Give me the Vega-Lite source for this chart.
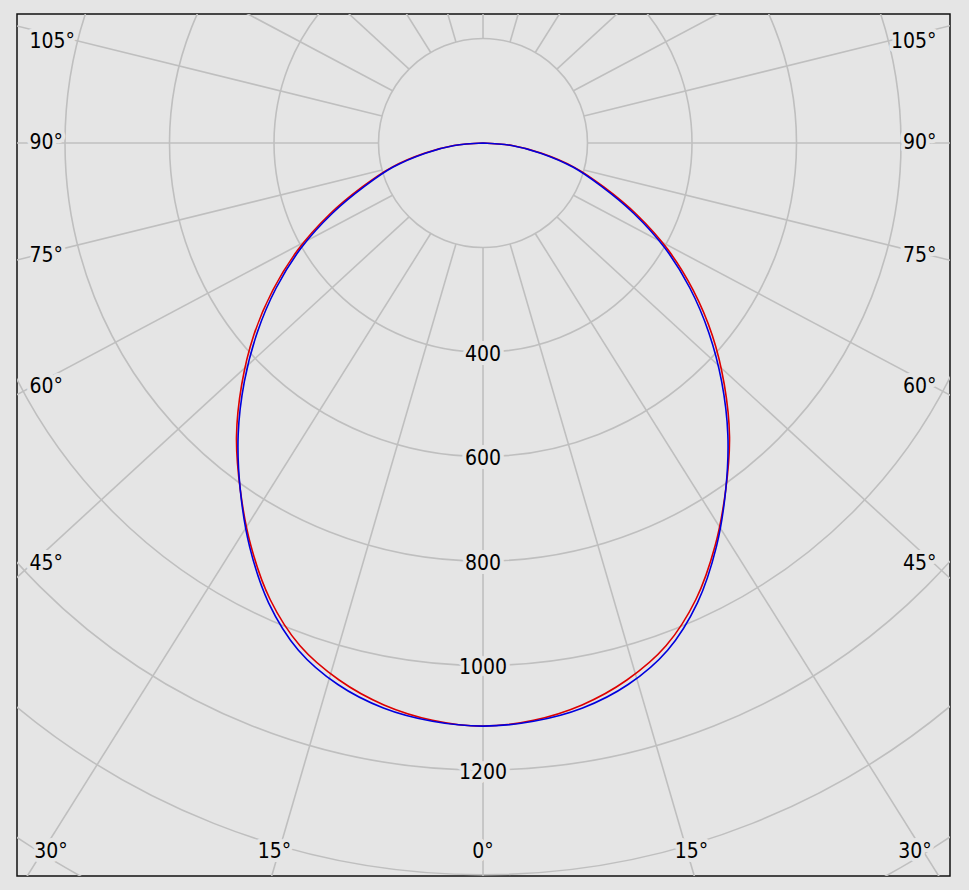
{
  "$schema": "https://vega.github.io/schema/vega-lite/v6.json",
  "width": 933,
  "height": 862,
  "autosize": "none",
  "padding": {"left": 17, "top": 14, "right": 19, "bottom": 14},
  "background": "#e5e5e5",
  "config": {"view": {"stroke": "#111111", "strokeWidth": 1.5, "fill": "#e5e5e5"}},
  "datasets": {
    "circles": [{"r": 200}, {"r": 400}, {"r": 600}, {"r": 800}, {"r": 1000}, {"r": 1200}, {"r": 1400}, {"r": 1600}],
    "spokes": [{"a": -165}, {"a": -150}, {"a": -135}, {"a": -120}, {"a": -105}, {"a": -90}, {"a": -75}, {"a": -60}, {"a": -45}, {"a": -30}, {"a": -15}, {"a": 0}, {"a": 15}, {"a": 30}, {"a": 45}, {"a": 60}, {"a": 75}, {"a": 90}, {"a": 105}, {"a": 120}, {"a": 135}, {"a": 150}, {"a": 165}, {"a": 180}],
    "curves": [
      {"plane": "C0-C180", "a": -90, "I": 0}, {"plane": "C0-C180", "a": -85, "I": 56}, {"plane": "C0-C180", "a": -80, "I": 114}, {"plane": "C0-C180", "a": -75, "I": 182}, {"plane": "C0-C180", "a": -70, "I": 246}, {"plane": "C0-C180", "a": -65, "I": 325}, {"plane": "C0-C180", "a": -60, "I": 409}, {"plane": "C0-C180", "a": -55, "I": 491}, {"plane": "C0-C180", "a": -50, "I": 573}, {"plane": "C0-C180", "a": -45, "I": 653}, {"plane": "C0-C180", "a": -40, "I": 734}, {"plane": "C0-C180", "a": -35, "I": 810}, {"plane": "C0-C180", "a": -30, "I": 889}, {"plane": "C0-C180", "a": -25, "I": 964}, {"plane": "C0-C180", "a": -20, "I": 1024}, {"plane": "C0-C180", "a": -15, "I": 1064}, {"plane": "C0-C180", "a": -10, "I": 1092}, {"plane": "C0-C180", "a": -5, "I": 1109}, {"plane": "C0-C180", "a": 0, "I": 1116},
      {"plane": "C0-C180", "a": 5, "I": 1109}, {"plane": "C0-C180", "a": 10, "I": 1092}, {"plane": "C0-C180", "a": 15, "I": 1064}, {"plane": "C0-C180", "a": 20, "I": 1024}, {"plane": "C0-C180", "a": 25, "I": 964}, {"plane": "C0-C180", "a": 30, "I": 889}, {"plane": "C0-C180", "a": 35, "I": 810}, {"plane": "C0-C180", "a": 40, "I": 734}, {"plane": "C0-C180", "a": 45, "I": 653}, {"plane": "C0-C180", "a": 50, "I": 573}, {"plane": "C0-C180", "a": 55, "I": 491}, {"plane": "C0-C180", "a": 60, "I": 409}, {"plane": "C0-C180", "a": 65, "I": 325}, {"plane": "C0-C180", "a": 70, "I": 246}, {"plane": "C0-C180", "a": 75, "I": 182}, {"plane": "C0-C180", "a": 80, "I": 114}, {"plane": "C0-C180", "a": 85, "I": 56}, {"plane": "C0-C180", "a": 90, "I": 0},
      {"plane": "C90-C270", "a": -90, "I": 0}, {"plane": "C90-C270", "a": -85, "I": 55}, {"plane": "C90-C270", "a": -80, "I": 112}, {"plane": "C90-C270", "a": -75, "I": 178}, {"plane": "C90-C270", "a": -70, "I": 240}, {"plane": "C90-C270", "a": -65, "I": 318}, {"plane": "C90-C270", "a": -60, "I": 402}, {"plane": "C90-C270", "a": -55, "I": 483}, {"plane": "C90-C270", "a": -50, "I": 564}, {"plane": "C90-C270", "a": -45, "I": 646}, {"plane": "C90-C270", "a": -40, "I": 729}, {"plane": "C90-C270", "a": -35, "I": 810}, {"plane": "C90-C270", "a": -30, "I": 893}, {"plane": "C90-C270", "a": -25, "I": 971}, {"plane": "C90-C270", "a": -20, "I": 1033}, {"plane": "C90-C270", "a": -15, "I": 1073}, {"plane": "C90-C270", "a": -10, "I": 1098}, {"plane": "C90-C270", "a": -5, "I": 1111}, {"plane": "C90-C270", "a": 0, "I": 1116},
      {"plane": "C90-C270", "a": 5, "I": 1111}, {"plane": "C90-C270", "a": 10, "I": 1098}, {"plane": "C90-C270", "a": 15, "I": 1073}, {"plane": "C90-C270", "a": 20, "I": 1033}, {"plane": "C90-C270", "a": 25, "I": 971}, {"plane": "C90-C270", "a": 30, "I": 893}, {"plane": "C90-C270", "a": 35, "I": 810}, {"plane": "C90-C270", "a": 40, "I": 729}, {"plane": "C90-C270", "a": 45, "I": 646}, {"plane": "C90-C270", "a": 50, "I": 564}, {"plane": "C90-C270", "a": 55, "I": 483}, {"plane": "C90-C270", "a": 60, "I": 402}, {"plane": "C90-C270", "a": 65, "I": 318}, {"plane": "C90-C270", "a": 70, "I": 240}, {"plane": "C90-C270", "a": 75, "I": 178}, {"plane": "C90-C270", "a": 80, "I": 112}, {"plane": "C90-C270", "a": 85, "I": 55}, {"plane": "C90-C270", "a": 90, "I": 0}
    ],
    "angleLabels": [
      {"a": -105, "t": "105°"}, {"a": -90, "t": "90°"}, {"a": -75, "t": "75°"}, {"a": -60, "t": "60°"}, {"a": -45, "t": "45°"}, {"a": -30, "t": "30°"}, {"a": -15, "t": "15°"}, {"a": 0, "t": "0°"},
      {"a": 15, "t": "15°"}, {"a": 30, "t": "30°"}, {"a": 45, "t": "45°"}, {"a": 60, "t": "60°"}, {"a": 75, "t": "75°"}, {"a": 90, "t": "90°"}, {"a": 105, "t": "105°"}
    ],
    "valueLabels": [{"v": 400, "t": "400"}, {"v": 600, "t": "600"}, {"v": 800, "t": "800"}, {"v": 1000, "t": "1000"}, {"v": 1200, "t": "1200"}]
  },
  "encoding": {
    "x": {"field": "x", "type": "quantitative", "scale": {"domain": [-891.9, 893.8], "nice": false, "zero": false}, "axis": null},
    "y": {"field": "y", "type": "quantitative", "scale": {"domain": [-1402.9, 246.9], "nice": false, "zero": false}, "axis": null}
  },
  "layer": [
    {
      "data": {"name": "circles"},
      "transform": [{"calculate": "0", "as": "x"}, {"calculate": "0", "as": "y"}],
      "mark": {"type": "point", "shape": "circle", "filled": false, "stroke": "#bfbfbf", "strokeWidth": 1.6, "opacity": 1, "clip": true},
      "encoding": {"size": {"field": "r", "type": "quantitative", "scale": {"type": "pow", "exponent": 2, "domain": [0, 2000], "range": [0, 4368100]}, "legend": null}}
    },
    {
      "data": {"name": "spokes"},
      "transform": [
        {"calculate": "datum.a*PI/180", "as": "rad"},
        {"calculate": "200*sin(datum.rad)", "as": "x"},
        {"calculate": "-200*cos(datum.rad)", "as": "y"},
        {"calculate": "3000*1.082*sin(datum.rad)", "as": "x2"},
        {"calculate": "-3000*cos(datum.rad)", "as": "y2"}
      ],
      "mark": {"type": "rule", "stroke": "#bfbfbf", "strokeWidth": 1.6, "clip": true},
      "encoding": {"x2": {"field": "x2"}, "y2": {"field": "y2"}}
    },
    {
      "data": {"name": "curves"},
      "transform": [
        {"filter": "datum.plane == 'C0-C180'"},
        {"calculate": "datum.I*sin(datum.a*PI/180)", "as": "x"},
        {"calculate": "-datum.I*cos(datum.a*PI/180)", "as": "y"}
      ],
      "mark": {"type": "line", "stroke": "#dd0000", "strokeWidth": 1.6, "interpolate": "catmull-rom", "clip": true},
      "encoding": {"order": {"field": "a", "type": "quantitative"}}
    },
    {
      "data": {"name": "curves"},
      "transform": [
        {"filter": "datum.plane == 'C90-C270'"},
        {"calculate": "datum.I*sin(datum.a*PI/180)", "as": "x"},
        {"calculate": "-datum.I*cos(datum.a*PI/180)", "as": "y"}
      ],
      "mark": {"type": "line", "stroke": "#0000dd", "strokeWidth": 1.6, "interpolate": "catmull-rom", "clip": true},
      "encoding": {"order": {"field": "a", "type": "quantitative"}}
    },
    {
      "data": {"name": "valueLabels"},
      "transform": [{"calculate": "0", "as": "x"}, {"calculate": "-datum.v", "as": "y"}],
      "encoding": {"text": {"field": "t"}},
      "layer": [
        {"mark": {"type": "text", "baseline": "middle", "align": "center", "dy": 3, "font": "DejaVu Sans Condensed, Liberation Sans", "fontSize": 21, "color": "#e5e5e5", "stroke": "#e5e5e5", "strokeWidth": 8, "strokeJoin": "round"}},
        {"mark": {"type": "text", "baseline": "middle", "align": "center", "dy": 3, "font": "DejaVu Sans Condensed, Liberation Sans", "fontSize": 21, "color": "#000000"}}
      ]
    },
    {
      "data": {"name": "angleLabels"},
      "transform": [
        {"calculate": "abs(datum.a)*PI/180", "as": "ra"},
        {"calculate": "sin(datum.ra)", "as": "s"},
        {"calculate": "cos(datum.ra)", "as": "c"},
        {"calculate": "datum.a < 0 ? -1 : (datum.a > 0 ? 1 : 0)", "as": "sg"},
        {"calculate": "abs(datum.a) >= 45 ? datum.sg*868 : clamp(datum.sg*(200*datum.s + (1391.4 - 200*datum.c)/datum.c*1.082*datum.s), -826.8, 826.8)", "as": "x"},
        {"calculate": "abs(datum.a) >= 45 ? min(193.3, -datum.c*(200 + (861.2 - 200*datum.s)/(1.082*datum.s))) : -1357", "as": "y"},
        {"calculate": "abs(datum.a) < 45 ? 'center' : (datum.a < 0 ? 'left' : 'right')", "as": "al"}
      ],
      "encoding": {"text": {"field": "t"}},
      "layer": [
        {"mark": {"type": "text", "baseline": "middle", "align": {"expr": "datum.al"}, "font": "DejaVu Sans Condensed, Liberation Sans", "fontSize": 21, "color": "#e5e5e5", "stroke": "#e5e5e5", "strokeWidth": 8, "strokeJoin": "round"}},
        {"mark": {"type": "text", "baseline": "middle", "align": {"expr": "datum.al"}, "font": "DejaVu Sans Condensed, Liberation Sans", "fontSize": 21, "color": "#000000"}}
      ]
    }
  ]
}
